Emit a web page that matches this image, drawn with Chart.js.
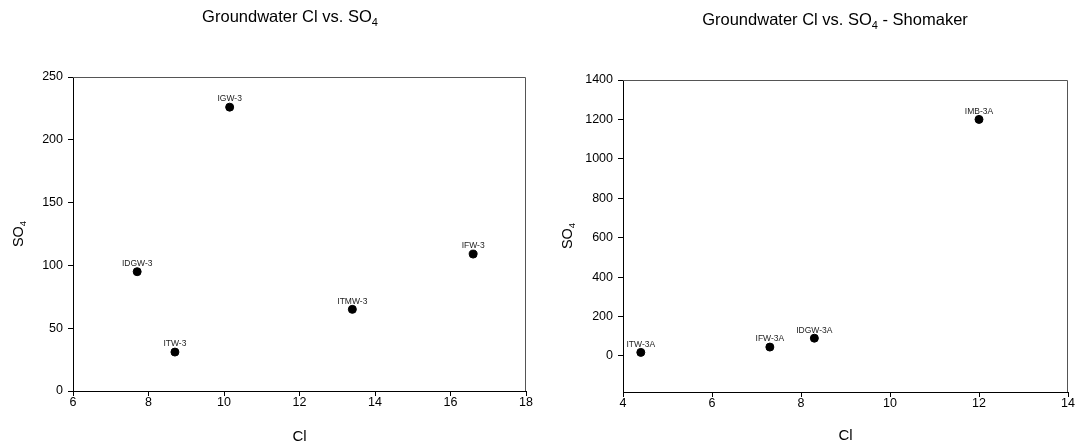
<!DOCTYPE html>
<html>
<head>
<meta charset="utf-8">
<script src="https://cdn.jsdelivr.net/npm/chart.js@4"></script>
<style>
  body { margin: 0; background: #fff; }
  #wrap { position: relative; width: 1083px; height: 445px; }
  canvas { position: absolute; top: 0; }
</style>
</head>
<body>
<div id="wrap">
  <canvas id="left" width="540" height="445" style="left:0"></canvas>
  <canvas id="right" width="543" height="445" style="left:540px"></canvas>
</div>
<script>
// left chart: wells
const wellsA = ['IDGW-3', 'ITW-3', 'IGW-3', 'ITMW-3', 'IFW-3'];
const clA = [7.7, 8.7, 10.15, 13.4, 16.6];
const so4A = [95, 31, 226, 65, 109];
const xTicksA = [6, 8, 10, 12, 14, 16, 18];
const yTicksA = [0, 50, 100, 150, 200, 250];

// right chart: Shomaker wells
const wellsB = ['ITW-3A', 'IFW-3A', 'IDGW-3A', 'IMB-3A'];
const clB = [4.4, 7.3, 8.3, 12.0];
const so4B = [18, 45, 90, 1200];
const xTicksB = [4, 6, 8, 10, 12, 14];
const yTicksB = [0, 200, 400, 600, 800, 1000, 1200, 1400];

const FONT = 'Arial, "Liberation Sans", sans-serif';

// title, axis titles with the SO4 subscript, and the well labels
const decor = {
  id: 'decor',
  afterDraw(chart, args, o){
    const ctx = chart.ctx, ca = chart.chartArea;
    ctx.save();
    // box
    ctx.strokeStyle = '#555';
    ctx.lineWidth = 1;
    ctx.beginPath();
    ctx.moveTo(ca.left, ca.top + 0.5);
    ctx.lineTo(ca.right - 0.5, ca.top + 0.5);
    ctx.lineTo(ca.right - 0.5, ca.bottom);
    ctx.stroke();

    // point labels
    const meta = chart.getDatasetMeta(0);
    ctx.fillStyle = '#222';
    ctx.font = '8.5px ' + FONT;
    ctx.textAlign = 'center';
    ctx.textBaseline = 'middle';
    meta.data.forEach((p, i) => {
      ctx.fillText(o.labels[i], p.x, p.y - 8);
    });

    // title with subscript
    ctx.fillStyle = '#000';
    ctx.textBaseline = 'alphabetic';
    ctx.textAlign = 'left';
    const big = '16.5px ' + FONT, small = '11px ' + FONT;
    ctx.font = big;
    const w1 = ctx.measureText(o.title[0]).width;
    const w3 = ctx.measureText(o.title[1]).width;
    ctx.font = small;
    const w2 = ctx.measureText('4').width;
    let x = o.titleX - (w1 + w2 + w3) / 2;
    ctx.font = big;
    ctx.fillText(o.title[0], x, o.titleY);
    ctx.font = small;
    ctx.fillText('4', x + w1, o.titleY + 4);
    ctx.font = big;
    ctx.fillText(o.title[1], x + w1 + w2, o.titleY);

    // x axis title
    ctx.font = '15px ' + FONT;
    ctx.textAlign = 'center';
    ctx.textBaseline = 'middle';
    ctx.fillText('Cl', (ca.left + ca.right) / 2, o.xTitleY);

    // y axis title, rotated
    ctx.translate(o.yTitleX, (ca.top + ca.bottom) / 2);
    ctx.rotate(-Math.PI / 2);
    ctx.font = '14.5px ' + FONT;
    ctx.textAlign = 'left';
    ctx.textBaseline = 'middle';
    const ws = ctx.measureText('SO').width;
    ctx.font = '9.5px ' + FONT;
    const w4 = ctx.measureText('4').width;
    ctx.font = '14.5px ' + FONT;
    ctx.fillText('SO', -(ws + w4) / 2, 0);
    ctx.font = '9.5px ' + FONT;
    ctx.fillText('4', -(ws + w4) / 2 + ws, 4);
    ctx.restore();
  }
};

function axis(min, max, tickVals, fitSize, horiz){
  return {
    type: 'linear',
    min: min, max: max,
    ticks: { color: '#000', font: { size: 12.5, family: FONT }, padding: horiz ? -1 : 5,
      callback: v => String(v) },
    grid: { drawOnChartArea: false, drawTicks: true, tickLength: 5, color: '#000' },
    border: { color: '#000', width: 1 },
    afterBuildTicks: s => { s.ticks = tickVals.map(v => ({ value: v })); },
    afterFit: s => { if (horiz) s.height = fitSize; else s.width = fitSize; }
  };
}

function makeChart(id, xs, ys, labels, cfg){
  const pts = xs.map((x, i) => ({ x: x, y: ys[i] }));
  return new Chart(document.getElementById(id), {
    type: 'scatter',
    data: { datasets: [{ data: pts, backgroundColor: '#000', borderColor: '#000',
      pointRadius: 4, pointHoverRadius: 4 }] },
    options: {
      responsive: false,
      animation: false,
      layout: { padding: cfg.padding },
      plugins: {
        legend: { display: false },
        tooltip: { enabled: false },
        decor: { labels: labels, title: cfg.title, titleX: cfg.titleX, titleY: cfg.titleY,
          xTitleY: cfg.xTitleY, yTitleX: cfg.yTitleX }
      },
      scales: {
        x: axis(cfg.x[0], cfg.x[1], cfg.xt, cfg.xh, true),
        y: axis(cfg.y[0], cfg.y[1], cfg.yt, cfg.yw, false)
      }
    },
    plugins: [decor]
  });
}

makeChart('left', clA, so4A, wellsA, {
  x: [6, 18], y: [0, 250], xt: xTicksA, yt: yTicksA,
  padding: { top: 77, right: 14, left: 0, bottom: 0 },
  xh: 54, yw: 73,
  title: ['Groundwater Cl vs. SO', ''], titleX: 290, titleY: 22,
  xTitleY: 437, yTitleX: 19
});

makeChart('right', clB, so4B, wellsB, {
  x: [4, 14], y: [-183, 1400], xt: xTicksB, yt: yTicksB,
  padding: { top: 80, right: 15, left: 0, bottom: 0 },
  xh: 53, yw: 83,
  title: ['Groundwater Cl vs. SO', ' - Shomaker'], titleX: 295, titleY: 25,
  xTitleY: 436, yTitleX: 28
});
</script>
</body>
</html>
